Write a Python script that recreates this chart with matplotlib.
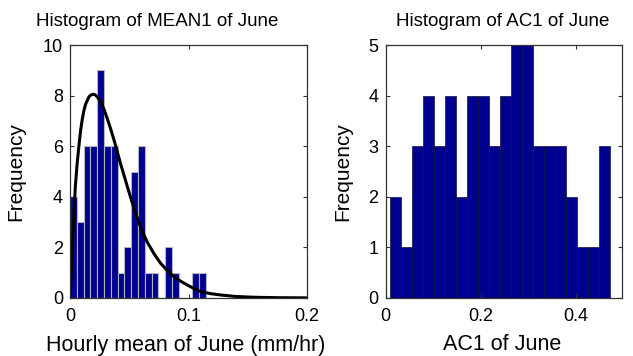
import numpy as np
import matplotlib
matplotlib.use("Agg")
import matplotlib.pyplot as plt

plt.rcParams.update({
    "font.family": ["Liberation Sans", "DejaVu Sans"],
    "font.size": 12,
    "xtick.direction": "in",
    "ytick.direction": "in",
    "xtick.top": True,
    "ytick.right": True,
    "xtick.major.size": 3,
    "ytick.major.size": 3,
    "axes.linewidth": 0.9,
    "axes.edgecolor": "#333333",
})

# --- data ---
mean_edge_start = 0.0
mean_bin_width = 0.00574
mean_counts = [4, 3, 6, 6, 9, 6, 6, 1, 2, 5, 6, 1, 1, 0, 2, 1, 0, 0, 1, 1]

# fitted pdf curve
fit_x = [0.0, 0.0015, 0.0032, 0.0045, 0.0060, 0.0075, 0.0089, 0.0103, 0.0117,
         0.0131, 0.0145, 0.0160, 0.0175, 0.0190, 0.0202, 0.0215, 0.0230,
         0.0258, 0.0286, 0.0314, 0.0342, 0.0371, 0.0399, 0.0427, 0.0456,
         0.0484, 0.0512, 0.0540, 0.0568, 0.0596, 0.0625, 0.0653, 0.0709,
         0.0765, 0.0822, 0.0878, 0.0935, 0.0991, 0.1048, 0.1104, 0.1190,
         0.1270, 0.1400, 0.1550, 0.1750, 0.2000]
fit_y = [0.0, 1.5, 3.2, 4.4, 5.3, 6.0, 6.6, 7.05, 7.4,
         7.65, 7.8, 7.95, 8.02, 8.05, 8.05, 8.02, 7.95,
         7.76, 7.47, 7.1, 6.7, 6.25, 5.78, 5.3, 4.85,
         4.4, 3.97, 3.55, 3.17, 2.8, 2.48, 2.2, 1.75,
         1.37, 1.08, 0.84, 0.66, 0.51, 0.37, 0.25, 0.17,
         0.12, 0.06, 0.03, 0.012, 0.005]

ac_edge_start = 0.0105
ac_bin_width = 0.02308
ac_counts = [2, 1, 3, 4, 3, 4, 2, 4, 4, 3, 4, 5, 5, 3, 3, 3, 2, 1, 1, 3]

bar_color = "#00008f"
W, H = 633, 356

fig = plt.figure(figsize=(6.33, 3.56), dpi=100)

# left panel
ax1 = fig.add_axes([70 / W, 58 / H, 237 / W, 253 / H])
left1 = mean_edge_start + mean_bin_width * np.arange(len(mean_counts))
ax1.bar(left1, mean_counts, width=mean_bin_width, align="edge",
        color=bar_color, edgecolor="#b4b4c4", linewidth=0.8)
ax1.plot(fit_x, fit_y, color="black", linewidth=2.2)
ax1.set_xlim(0, 0.2)
ax1.set_ylim(0, 10)
ax1.set_xticks([0, 0.1, 0.2])
ax1.set_xticklabels(["0", "0.1", "0.2"])
ax1.set_yticks([0, 2, 4, 6, 8, 10])
ax1.set_ylabel("Frequency", fontsize=15)
ax1.set_xlabel("Hourly mean of June (mm/hr)", fontsize=15.5)
ax1.yaxis.set_label_coords((16 - 70) / 237, 0.5)
ax1.xaxis.set_label_coords((185.5 - 70) / 237, (298 - 345) / 253)

# right panel
ax2 = fig.add_axes([385.5 / W, 58 / H, 236 / W, 253 / H])
left2 = ac_edge_start + ac_bin_width * np.arange(len(ac_counts))
ax2.bar(left2, ac_counts, width=ac_bin_width, align="edge",
        color=bar_color, edgecolor="#10103a", linewidth=0.5)
ax2.set_xlim(0, 0.496)
ax2.set_ylim(0, 5)
ax2.set_xticks([0, 0.2, 0.4])
ax2.set_xticklabels(["0", "0.2", "0.4"])
ax2.set_yticks([0, 1, 2, 3, 4, 5])
ax2.set_ylabel("Frequency", fontsize=15)
ax2.set_xlabel("AC1 of June", fontsize=15.5)
ax2.yaxis.set_label_coords((343 - 385.5) / 236, 0.5)
ax2.xaxis.set_label_coords((502 - 385.5) / 236, (298 - 345) / 253)

for ax in (ax1, ax2):
    ax.tick_params(labelsize=13, pad=5, colors="#333333", labelcolor="black")
    ax.tick_params(axis="x", pad=7)
    ax.yaxis.label.set_va("center")
    ax.xaxis.label.set_va("center")

fig.text(157 / W, 1 - 21 / H, "Histogram of MEAN1 of June",
         ha="center", va="center", fontsize=13.5)
fig.text(503 / W, 1 - 21 / H, "Histogram of AC1 of June",
         ha="center", va="center", fontsize=13.5)

fig.savefig("out.png", dpi=100)
